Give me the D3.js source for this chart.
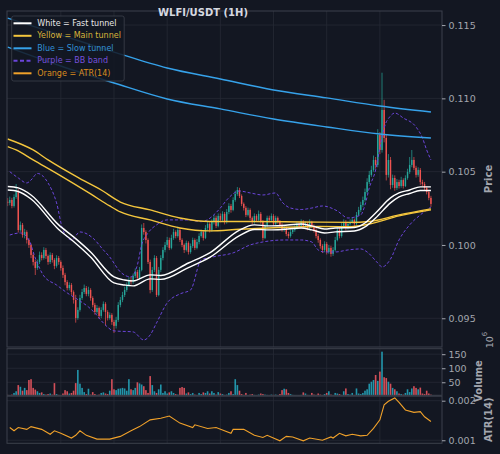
<!DOCTYPE html>
<html><head><meta charset="utf-8">
<script src="https://cdn.jsdelivr.net/npm/d3@7/dist/d3.min.js"></script>
<style>html,body{margin:0;padding:0;background:#131722;}svg{display:block}</style>
</head><body><svg id="chart" width="500" height="454"></svg>
<script>
// ---------------- DATA ----------------
const title = "WLFI/USDT (1H)";
const firstOpen = 0.10295;
const closes = [
0.10287,0.10307,0.10266,0.10327,0.10361,0.10102,0.10137,0.10068,0.10088,0.10034,
0.10000,0.09932,0.09884,0.09843,0.09884,0.09932,0.09911,0.09966,0.09925,0.09884,
0.09932,0.09898,0.09857,0.09911,0.09884,0.09843,0.09796,0.09747,0.09706,0.09727,
0.09679,0.09625,0.09502,0.09557,0.09638,0.09679,0.09706,0.09666,0.09693,0.09638,
0.09591,0.09543,0.09570,0.09516,0.09557,0.09598,0.09543,0.09502,0.09523,0.09475,
0.09448,0.09489,0.09591,0.09625,0.09659,0.09693,0.09727,0.09761,0.09747,0.09789,
0.09816,0.09775,0.09830,0.10116,0.10088,0.10034,0.09884,0.09693,0.09830,0.09911,
0.09659,0.09830,0.09911,0.09966,0.10000,0.10034,0.09980,0.10048,0.10088,0.10061,
0.10102,0.10034,0.10000,0.09966,0.10014,0.09952,0.09993,0.10034,0.09980,0.10020,
0.10061,0.10088,0.10048,0.10116,0.10144,0.10102,0.10157,0.10185,0.10130,0.10198,
0.10171,0.10212,0.10157,0.10225,0.10266,0.10239,0.10307,0.10348,0.10375,0.10334,
0.10280,0.10253,0.10205,0.10239,0.10185,0.10157,0.10198,0.10171,0.10212,0.10157,
0.10048,0.10130,0.10185,0.10171,0.10198,0.10144,0.10185,0.10157,0.10137,0.10102,
0.10116,0.10075,0.10061,0.10088,0.10102,0.10116,0.10144,0.10130,0.10157,0.10130,
0.10144,0.10116,0.10157,0.10130,0.10102,0.10061,0.10034,0.09993,0.09966,0.10007,
0.09952,0.09980,0.09939,0.09966,0.10034,0.10102,0.10061,0.10130,0.10157,0.10116,
0.10144,0.10157,0.10171,0.10144,0.10205,0.10239,0.10273,0.10307,0.10361,0.10429,
0.10478,0.10512,0.10580,0.10546,0.10750,0.10648,0.10921,0.10730,0.10478,0.10580,
0.10409,0.10457,0.10389,0.10429,0.10402,0.10443,0.10402,0.10457,0.10498,0.10546,
0.10580,0.10526,0.10478,0.10512,0.10429,0.10416,0.10389,0.10361,0.10321,0.10280];
const highs = [
0.10320,0.10330,0.10322,0.10345,0.10416,0.10380,0.10160,0.10150,0.10110,0.10100,
0.10045,0.10010,0.09945,0.09900,0.09900,0.09955,0.09950,0.09985,0.09980,0.09935,
0.09950,0.09945,0.09910,0.09930,0.09925,0.09895,0.09860,0.09810,0.09760,0.09745,
0.09740,0.09690,0.09660,0.09575,0.09660,0.09700,0.09730,0.09720,0.09715,0.09705,
0.09650,0.09605,0.09590,0.09580,0.09575,0.09615,0.09610,0.09555,0.09540,0.09535,
0.09490,0.09510,0.09610,0.09645,0.09680,0.09715,0.09745,0.09780,0.09785,0.09805,
0.09840,0.09830,0.09850,0.10140,0.10150,0.10100,0.10045,0.09900,0.09850,0.09930,
0.09925,0.09850,0.09930,0.09985,0.10020,0.10055,0.10050,0.10070,0.10110,0.10100,
0.10125,0.10115,0.10045,0.10010,0.10030,0.10025,0.10010,0.10050,0.10045,0.10040,
0.10080,0.10105,0.10100,0.10135,0.10165,0.10155,0.10175,0.10205,0.10200,0.10215,
0.10215,0.10230,0.10225,0.10245,0.10285,0.10280,0.10325,0.10370,0.10395,0.10390,
0.10345,0.10290,0.10265,0.10255,0.10250,0.10195,0.10215,0.10210,0.10235,0.10225,
0.10170,0.10145,0.10200,0.10200,0.10215,0.10210,0.10200,0.10195,0.10170,0.10150,
0.10135,0.10125,0.10090,0.10105,0.10120,0.10135,0.10160,0.10160,0.10175,0.10170,
0.10160,0.10155,0.10175,0.10165,0.10140,0.10115,0.10075,0.10045,0.10005,0.10025,
0.10020,0.10000,0.09995,0.09985,0.10055,0.10125,0.10115,0.10150,0.10175,0.10170,
0.10160,0.10175,0.10190,0.10180,0.10225,0.10260,0.10295,0.10330,0.10385,0.10455,
0.10505,0.10540,0.10610,0.10600,0.10790,0.10770,0.11175,0.10990,0.10750,0.10620,
0.10600,0.10480,0.10475,0.10450,0.10445,0.10465,0.10455,0.10475,0.10520,0.10600,
0.10648,0.10600,0.10540,0.10530,0.10525,0.10445,0.10430,0.10400,0.10375,0.10335];
const lows = [
0.10265,0.10270,0.10250,0.10255,0.10315,0.10085,0.10090,0.10050,0.10045,0.10010,
0.09980,0.09910,0.09860,0.09795,0.09830,0.09870,0.09895,0.09900,0.09905,0.09865,
0.09870,0.09880,0.09835,0.09845,0.09865,0.09825,0.09775,0.09725,0.09690,0.09690,
0.09660,0.09600,0.09470,0.09490,0.09545,0.09625,0.09665,0.09650,0.09650,0.09620,
0.09575,0.09525,0.09530,0.09495,0.09500,0.09545,0.09450,0.09485,0.09490,0.09455,
0.09400,0.09430,0.09475,0.09575,0.09610,0.09645,0.09680,0.09715,0.09730,0.09735,
0.09775,0.09760,0.09765,0.09820,0.10070,0.10010,0.09870,0.09670,0.09680,0.09815,
0.09645,0.09650,0.09815,0.09895,0.09950,0.09985,0.09965,0.09970,0.10035,0.10045,
0.10050,0.10020,0.09985,0.09945,0.09955,0.09935,0.09940,0.09980,0.09965,0.09970,
0.10005,0.10050,0.10030,0.10040,0.10100,0.10085,0.10090,0.10140,0.10115,0.10120,
0.10155,0.10160,0.10140,0.10145,0.10210,0.10220,0.10230,0.10295,0.10335,0.10320,
0.10265,0.10235,0.10190,0.10195,0.10170,0.10140,0.10145,0.10160,0.10160,0.10145,
0.10030,0.10040,0.10120,0.10155,0.10160,0.10130,0.10135,0.10145,0.10125,0.10090,
0.10090,0.10060,0.10045,0.10050,0.10075,0.10090,0.10105,0.10115,0.10120,0.10115,
0.10120,0.10100,0.10105,0.10115,0.10085,0.10045,0.10015,0.09975,0.09945,0.09950,
0.09935,0.09940,0.09920,0.09925,0.09955,0.10025,0.10045,0.10050,0.10120,0.10100,
0.10105,0.10130,0.10145,0.10130,0.10135,0.10195,0.10225,0.10260,0.10295,0.10350,
0.10415,0.10465,0.10500,0.10520,0.10530,0.10620,0.10630,0.10700,0.10440,0.10460,
0.10380,0.10390,0.10370,0.10375,0.10385,0.10390,0.10385,0.10395,0.10445,0.10485,
0.10530,0.10510,0.10460,0.10465,0.10410,0.10400,0.10370,0.10345,0.10305,0.10260];
// volume in units of 10^6
const volumes = [
5,4,6,12,18,40,34,20,30,22, 58,61,30,24,18,12,14,8,6,8,
10,6,47,8,5,4,10,22,18,10, 12,20,47,94,45,30,15,8,27,6,
15,8,5,6,12,14,10,8,20,61, 25,22,27,28,30,28,20,61,25,22,
30,50,46,42,36,22,12,72,40,18, 12,25,42,12,18,10,14,18,12,8,
6,30,33,30,10,14,8,12,6,5, 12,8,14,12,18,10,18,12,6,15,
10,8,5,6,12,18,8,61,40,20, 8,5,12,4,6,8,5,4,6,10,
8,6,5,4,6,5,6,4,8,22, 27,25,12,8,5,4,3,4,5,14,
10,5,4,12,6,5,10,6,4,8, 12,18,6,4,12,10,8,5,18,28,
8,6,12,5,28,10,8,12,20,25, 45,52,58,76,55,88,159,68,65,52,
45,30,25,18,10,8,6,12,25,15, 28,36,30,25,31,10,8,20,10,6];

// indicator lines (candle index, value)
const blueUpIdx = [0,25,50,75,100,125,150,175,199];
const blueUpVal = [0.11548,0.11432,0.11316,0.11207,0.11132,0.11057,0.11003,0.10948,0.10907];
const blueLoIdx = [0,25,50,75,100,125,150,175,199];
const blueLoVal = [0.11350,0.11221,0.11105,0.10996,0.10928,0.10859,0.10805,0.10757,0.10730];
const yellowUpIdx = [0,12,19,34,44,53,67,81,95,114,138,161,170,184,199];
const yellowUpVal = [0.10723,0.10648,0.10580,0.10453,0.10375,0.10293,0.10239,0.10184,0.10160,0.10160,0.10157,0.10154,0.10160,0.10205,0.10246];
const yellowLoIdx = [0,4,12,25,39,48,53,67,81,95,109,128,147,161,170,184,199];
const yellowLoVal = [0.10671,0.10648,0.10580,0.10471,0.10348,0.10266,0.10225,0.10171,0.10116,0.10096,0.10107,0.10119,0.10126,0.10125,0.10143,0.10198,0.10239];
const whiteIdx = [0,5,11,24,31,39,50,55,59,67,72,85,95,109,116,123,129,138,143,149,154,163,168,173,180,184,189,194,199];
const whiteUpVal = [0.10399,0.10389,0.10341,0.10137,0.10055,0.09952,0.09782,0.09761,0.09755,0.09796,0.09792,0.09877,0.09946,0.10102,0.10137,0.10130,0.10133,0.10143,0.10130,0.10109,0.10116,0.10119,0.10150,0.10218,0.10321,0.10355,0.10375,0.10396,0.10396];
const whiteLoVal = [0.10375,0.10365,0.10314,0.10106,0.10024,0.09918,0.09741,0.09727,0.09721,0.09769,0.09765,0.09846,0.09915,0.10064,0.10106,0.10103,0.10106,0.10116,0.10103,0.10082,0.10089,0.10095,0.10123,0.10184,0.10287,0.10328,0.10351,0.10372,0.10372];
const bbUpIdx = [1,5,9,11,14,19,23,26,30,34,40,45,48,53,58,61,63,66,70,75,85,91,100,103,109,114,120,126,129,133,138,143,148,155,160,166,168,170,173,175,177,180,182,186,192,195,197,199];
const bbUpVal = [0.10500,0.10457,0.10423,0.10443,0.10488,0.10423,0.10287,0.10102,0.10034,0.10089,0.10048,0.09966,0.09918,0.09816,0.09782,0.09864,0.10000,0.10082,0.10137,0.10171,0.10171,0.10159,0.10252,0.10307,0.10368,0.10355,0.10341,0.10355,0.10293,0.10252,0.10242,0.10252,0.10266,0.10232,0.10184,0.10205,0.10273,0.10389,0.10512,0.10662,0.10798,0.10880,0.10900,0.10866,0.10805,0.10730,0.10648,0.10580];
const bbLoIdx = [1,6,10,13,17,23,28,34,38,41,45,50,59,64,67,70,75,81,86,91,97,106,114,121,130,138,143,146,149,154,160,166,169,174,176,180,184,189,194,199];
const bbLoVal = [0.10068,0.10082,0.10034,0.09911,0.09789,0.09727,0.09673,0.09618,0.09577,0.09536,0.09468,0.09414,0.09407,0.09352,0.09386,0.09468,0.09605,0.09666,0.09693,0.09898,0.09920,0.09946,0.10000,0.10023,0.10034,0.10034,0.10020,0.09966,0.09952,0.09952,0.09966,0.09973,0.09952,0.09877,0.09850,0.09904,0.10034,0.10137,0.10205,0.10259];
const atrIdx = [1,3,5,9,11,16,20,22,25,30,32,34,37,42,48,53,58,62,67,72,76,81,87,88,94,98,105,106,111,116,120,122,128,131,134,139,142,148,152,153,156,159,162,166,169,172,175,177,179,182,184,187,191,194,196,199];
const atrVal = [0.00125,0.00118,0.00125,0.00121,0.00127,0.00121,0.00111,0.00118,0.00113,0.00104,0.00109,0.00118,0.00109,0.00102,0.00102,0.00107,0.00118,0.00127,0.00143,0.00147,0.00153,0.00135,0.00125,0.00131,0.00123,0.00125,0.00113,0.00121,0.00121,0.00109,0.00105,0.00109,0.00099,0.00107,0.00106,0.00099,0.00104,0.00100,0.00106,0.00104,0.00113,0.00108,0.00111,0.00108,0.00109,0.00123,0.00143,0.00186,0.00198,0.00210,0.00194,0.00170,0.00163,0.00165,0.00151,0.00139];

const priceTicks = [0.095,0.100,0.105,0.110,0.115];
const volTicks = [50,100,150];
const atrTicks = [0.001,0.002];
const xGridTicks = [25,50,75,100,125,150,175];
const legendLabels = ["White = Fast tunnel","Yellow = Main tunnel","Blue = Slow tunnel","Purple = BB band","Orange = ATR(14)"];

// ---------------- STYLE ----------------
const C = {bg:"#131722", grid:"#262a35", spine:"#3d414c", text:"#a3a6ae", up:"#26a69a", down:"#ef5350",
  vUp:"#25a3b9", vDown:"#e8555f", white:"#ffffff", yellow:"#f4c63d", blue:"#36a2ea", purple:"#6b45da", orange:"#f0a12a"};
const FONT = "DejaVu Sans, Liberation Sans, sans-serif";

const svg = d3.select("#chart");
svg.append("rect").attr("width",500).attr("height",454).attr("fill",C.bg);

const L = 7, R = 442;
const P = {top:11, bottom:347};
const V = {top:348.7, bottom:395.3};
const A = {top:396.2, bottom:443.3};

const x = d3.scaleLinear().domain([-0.3, 204.2]).range([L, R]);
const y = d3.scaleLinear().domain([0.09304, 0.11596]).range([P.bottom, P.top]);
const yv = d3.scaleLinear().domain([3.6, 169.6]).range([V.bottom, V.top]);
const ya = d3.scaleLog().domain([0.000948, 0.002164]).range([A.bottom, A.top]);

const defs = svg.append("defs");
function clip(id, p){ defs.append("clipPath").attr("id",id).append("rect").attr("x",L).attr("y",p.top).attr("width",R-L).attr("height",p.bottom-p.top); }
clip("cp",P); clip("cv",V); clip("ca",A);

// grids
function grid(p, yScale, ticks){
  const g = svg.append("g");
  g.selectAll("line.v").data(xGridTicks).join("line").attr("x1",d=>x(d)).attr("x2",d=>x(d))
    .attr("y1",p.top).attr("y2",p.bottom).attr("stroke",C.grid).attr("stroke-width",0.8);
  g.selectAll("line.h").data(ticks).join("line").attr("x1",L).attr("x2",R).attr("y1",d=>yScale(d)).attr("y2",d=>yScale(d))
    .attr("stroke",C.grid).attr("stroke-width",0.8);
}
grid(P, y, priceTicks); grid(V, yv, volTicks); grid(A, ya, atrTicks);

const opens = closes.map((c,i)=> i===0 ? firstOpen : closes[i-1]);
const candles = closes.map((c,i)=>({i, o:opens[i], c, h:highs[i], l:lows[i], v:volumes[i]}));
const step = x(1)-x(0);

// candles
const gc = svg.append("g").attr("clip-path","url(#cp)");
gc.selectAll("line").data(candles).join("line")
  .attr("x1",d=>x(d.i)).attr("x2",d=>x(d.i)).attr("y1",d=>y(d.h)).attr("y2",d=>y(d.l))
  .attr("stroke",d=>d.c>=d.o?C.up:C.down).attr("stroke-width",0.7);
gc.selectAll("rect").data(candles).join("rect")
  .attr("x",d=>x(d.i)-step*0.34).attr("width",step*0.68)
  .attr("y",d=>y(Math.max(d.o,d.c))).attr("height",d=>Math.max(0.6, Math.abs(y(d.o)-y(d.c))))
  .attr("fill",d=>d.c>=d.o?C.up:C.down);

// lines
function zip(idx, val){ return idx.map((d,k)=>[d, val[k]]); }
const line = d3.line().x(d=>x(d[0])).y(d=>y(d[1])).curve(d3.curveMonotoneX);
const gl = svg.append("g").attr("clip-path","url(#cp)");
function drawLine(data, color, w, dash){
  const p = gl.append("path").attr("d", line(data)).attr("fill","none").attr("stroke",color).attr("stroke-width",w);
  if(dash) p.attr("stroke-dasharray",dash);
}
drawLine(zip(bbUpIdx,bbUpVal), C.purple, 1.0, "3,2");
drawLine(zip(bbLoIdx,bbLoVal), C.purple, 1.0, "3,2");
drawLine(zip(blueUpIdx,blueUpVal), C.blue, 1.4);
drawLine(zip(blueLoIdx,blueLoVal), C.blue, 1.4);
drawLine(zip(yellowUpIdx,yellowUpVal), C.yellow, 1.4);
drawLine(zip(yellowLoIdx,yellowLoVal), C.yellow, 1.4);
drawLine(zip(whiteIdx,whiteUpVal), C.white, 1.4);
drawLine(zip(whiteIdx,whiteLoVal), C.white, 1.4);

// volume
const gv = svg.append("g").attr("clip-path","url(#cv)");
gv.selectAll("rect").data(candles).join("rect")
  .attr("x",d=>x(d.i)-step*0.38).attr("width",step*0.76)
  .attr("y",d=>yv(d.v)).attr("height",d=>Math.max(0, yv(0)-yv(d.v)))
  .attr("fill",d=>d.c>=d.o?C.vUp:C.vDown).attr("opacity",0.9);

// ATR
const ga = svg.append("g").attr("clip-path","url(#ca)");
ga.append("path").attr("d", d3.line().x(d=>x(d[0])).y(d=>ya(d[1]))(zip(atrIdx,atrVal)))
  .attr("fill","none").attr("stroke",C.orange).attr("stroke-width",1.1);

// spines
[P,V,A].forEach(p=> svg.append("rect").attr("x",L).attr("y",p.top).attr("width",R-L).attr("height",p.bottom-p.top)
  .attr("fill","none").attr("stroke",C.spine).attr("stroke-width",1));

// axes
function styleAxis(g){
  g.select(".domain").remove();
  g.selectAll(".tick line").attr("stroke",C.text);
  g.selectAll(".tick text").attr("fill",C.text).attr("font-size","9.5px").attr("font-family",FONT);
}
svg.append("g").attr("transform",`translate(${R},0)`)
  .call(d3.axisRight(y).tickValues(priceTicks).tickFormat(d3.format(".3f")).tickSize(3.5).tickPadding(3)).call(styleAxis);
svg.append("g").attr("transform",`translate(${R},0)`)
  .call(d3.axisRight(yv).tickValues(volTicks).tickFormat(d3.format("d")).tickSize(3.5).tickPadding(3)).call(styleAxis);
svg.append("g").attr("transform",`translate(${R},0)`)
  .call(d3.axisRight(ya).tickValues(atrTicks).tickFormat(d3.format(".3f")).tickSize(3.5).tickPadding(3)).call(styleAxis);

function vlabel(t, cx, cy){
  svg.append("text").attr("transform",`translate(${cx},${cy}) rotate(-90)`).attr("text-anchor","middle")
    .attr("dominant-baseline","central").attr("fill",C.text).attr("font-size","10px").attr("font-weight","bold")
    .attr("font-family",FONT).text(t);
}
vlabel("Price", 488, (P.top+P.bottom)/2);
vlabel("Volume", 478, 381);
vlabel("ATR(14)", 488, (A.top+A.bottom)/2);
const off = svg.append("text").attr("transform","translate(489,340) rotate(-90)").attr("text-anchor","middle")
  .attr("dominant-baseline","central").attr("fill",C.text).attr("font-size","9.5px").attr("font-family",FONT);
off.append("tspan").text("10");
off.append("tspan").attr("dy","-4").attr("font-size","7px").text("6");

// title
svg.append("text").attr("x",203).attr("y",15.5).attr("text-anchor","middle").attr("fill","#d6d9e0")
  .attr("font-size","10px").attr("font-weight","bold").attr("font-family",FONT).text(title);

// legend
const lg = svg.append("g");
lg.append("rect").attr("x",11.7).attr("y",16).attr("width",112.5).attr("height",65).attr("rx",2)
  .attr("fill",C.bg).attr("fill-opacity",0.85).attr("stroke",C.spine).attr("stroke-width",0.8);
const legColors = [C.white, C.yellow, C.blue, C.purple, C.orange];
const legText = ["#e8e8e8", "#d9b53a", "#3391d6", "#7650db", "#dc8d1f"];
legendLabels.forEach((t,k)=>{
  const yy = 23.3 + k*12.5;
  lg.append("line").attr("x1",13.5).attr("x2",31.5).attr("y1",yy).attr("y2",yy).attr("stroke",legColors[k])
    .attr("stroke-width",2).attr("stroke-dasharray", k===3 ? "4,2.5" : null);
  lg.append("text").attr("x",37.3).attr("y",yy).attr("dominant-baseline","central").attr("fill",legText[k])
    .attr("font-size","8px").attr("font-family",FONT).text(t);
});
</script></body></html>
